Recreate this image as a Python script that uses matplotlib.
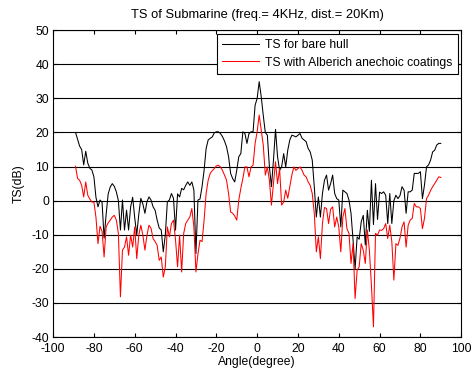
import numpy as np
import matplotlib
matplotlib.use("Agg")
from matplotlib import pyplot as plt

angle = np.arange(-89, 91)

ts_bare = [
    20, 18, 16, 15, 10.5, 14.5, 11, 9.5, 9, 7,
    1, -1.8, 0.2, -0.5, -11, -4, 2, 4, 5, 4.2,
    2.6, 0, -8.6, 0.2, -8.6, -2.8, -8.6, -1.8, 1, -5,
    -10, -4, 0.7, -1, -3.7, -0.3, 1.1, 0.2, -1.8, -2.8,
    -5.7, -8, -8.6, -15, -10, -0.3, 0.2, 2.1, 0.7, -8.6,
    2, 1.1, 3.6, 3.2, 4.5, 5.5, 4.5, 5.5, 3.1, -15.5,
    0.2, 0.5, 4.1, 8.9, 15.3, 17.8, 18.3, 18.7, 19.9, 20.2,
    20.2, 19.7, 18.8, 17.5, 15.8, 12.9, 8, 6.5, 5.5, 8.9,
    12.9, 13.8, 20.2, 19.7, 16.8, 19.7, 20.2, 20.2, 28, 30,
    34.9, 30.5, 25, 20, 19.2, 10, 4.1, 11.9, 20.9, 12.9,
    8.9, 9.9, 13.8, 9.9, 14.8, 17.8, 19.2, 19, 18.7, 19.2,
    19.7, 18.3, 17.8, 17.3, 15.3, 14.3, 11.9, 4.1, -4.8, 1.1,
    -4.8, 2.1, 6, 7.5, 3.1, 5, 7.5, 2.1, 0.6, 0.2,
    -7.7, 3.1, 2.6, 2.1, 0.2, -3.7, -11.5, -20, -10.6, -11.3,
    -6.2, -4.3, -13, -2.8, -9, 6, -7, 5, -5.5, 2.5,
    2.1, 2.6, 1.6, -6.7, 2.1, -6.7, 0, 1.6, 0.6, 1.5,
    4.1, 3.1, -3.7, 2.6, 2.6, 3.1, 8, 8, 8, 8.5,
    0.6, 4.6, 9.9, 10.5, 11.9, 14.3, 14.8, 16.3, 16.8, 16.8,
]

ts_coated = [
    10.1, 6.5, 6, 4.5, 1.1, 5.5, 1.6, 0.5, -0.4, -0.4,
    -4.8, -12.6, -7.5, -9, -16.5, -7.7, -6.5, -5.7, -4.8, -4.3,
    -5.7, -9.6, -28.2, -14.5, -13.6, -10.6, -16, -10.1, -13.6, -7.7,
    -17, -10.1, -7.2, -10.1, -14.5, -10.1, -7.2, -8.1, -11.1, -12,
    -13.1, -17.5, -16.5, -22.4, -19.4, -7.7, -10.6, -6.7, -5.7, -11.5,
    -19.4, -10.1, -20.9, -9.6, -6.7, -5.7, -4.8, -2.3, -7.7, -20.9,
    -15.6, -11.6, -12, -5.7, 2.1, 6, 8, 8.8, 9.4, 10.2,
    10.4, 9.9, 8.9, 7.5, 6, 2.1, -3.3, -3.7, -4.5, -5.7,
    0.2, 3.6, 6.5, 9.9, 9.9, 7, 9.9, 10.4, 16.8, 20.2,
    25.1, 20.7, 16.3, 7.5, 9.9, 6, -1.3, 5, 11.4, 5,
    9.4, -1.3, -0.4, 3.1, 0.7, 4.1, 7.5, 9.9, 8.9, 9.4,
    9.9, 8.9, 7.5, 7, 5.5, 4.5, 2.1, -3.7, -15, -10.6,
    -17, -6.7, -2, -2.3, -6.7, -2.5, -1.8, -7.7, -4.8, -7.7,
    -15, -4.8, -2.3, -8.2, -9.6, -18.4, -12.6, -28.7, -20.4, -19.4,
    -12.6, -14.5, -18.4, -8.6, -14.5, -24.8, -37, -9.6, -10.1, -8.6,
    -8.7, -8.2, -6.7, -11.1, -7.2, -12, -23.3, -12.6, -13.1, -11,
    -7.7, -6.2, -13.6, -7.2, -5.7, -5.2, -0.8, -1.8, -1.8, -2.3,
    -8.2, -5.2, 0.6, 1.6, 3, 4.1, 5, 6, 7, 6.8,
]

plt.rcParams['font.family'] = ['Liberation Sans', 'DejaVu Sans']
plt.rcParams['axes.unicode_minus'] = False
fs = 8.7

fig = plt.figure(figsize=(4.74, 3.68), dpi=100)
ax = fig.add_axes([0.112, 0.084, 0.861, 0.834])

ax.plot(angle, ts_bare, color='black', lw=0.75, label='TS for bare hull')
ax.plot(angle, ts_coated, color='red', lw=0.75, label='TS with Alberich anechoic coatings')

ax.set_xlim(-100, 100)
ax.set_ylim(-40, 50)
ax.set_xticks(np.arange(-100, 101, 20))
ax.set_yticks(np.arange(-40, 51, 10))
ax.yaxis.grid(True, color='black', lw=0.8, ls='-')
ax.set_axisbelow(True)
ax.tick_params(direction='in', top=True, right=True, length=3, labelsize=fs)
ax.tick_params(axis='x', pad=4)
ax.tick_params(axis='y', pad=3)
for s in ax.spines.values():
    s.set_linewidth(0.8)

ax.set_title('TS of Submarine (freq.= 4KHz, dist.= 20Km)', fontsize=9.3, pad=9)
ax.set_xlabel('Angle(degree)', fontsize=fs, labelpad=1)
ax.set_ylabel('TS(dB)', fontsize=fs, labelpad=5)

leg = ax.legend(loc='upper right', fancybox=False, framealpha=1, edgecolor='black',
                handlelength=3.0, handletextpad=0.5, borderaxespad=0.3, fontsize=fs,
                labelspacing=0.45, borderpad=0.45)
leg.get_frame().set_linewidth(0.8)

fig.savefig('out.png', dpi=100)
